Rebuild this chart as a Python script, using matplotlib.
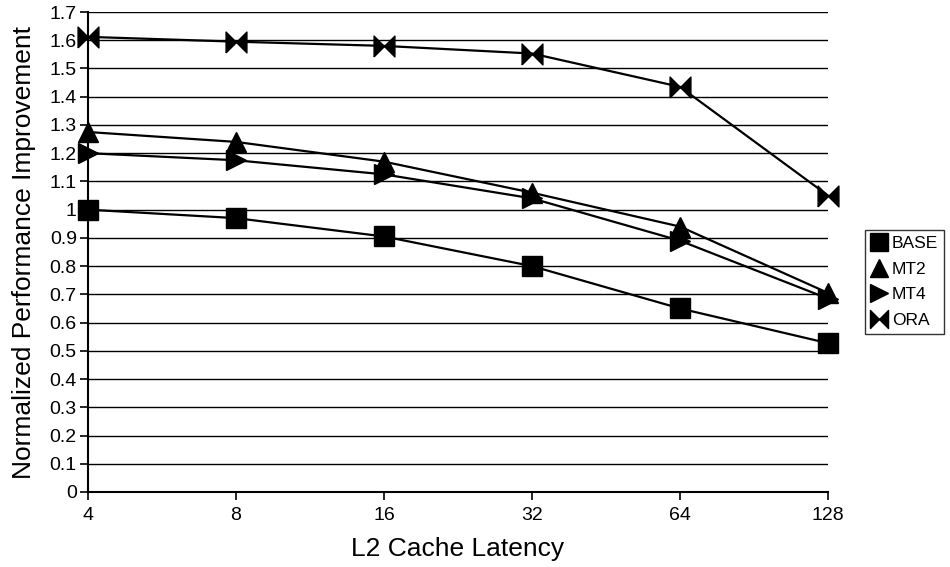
import matplotlib
matplotlib.use('Agg')
from matplotlib import pyplot as plt
from matplotlib.lines import Line2D
from matplotlib.path import Path

latency = ['4', '8', '16', '32', '64', '128']
base = [1.0, 0.97, 0.905, 0.80, 0.65, 0.527]
mt2 = [1.275, 1.24, 1.17, 1.06, 0.94, 0.705]
mt4 = [1.20, 1.175, 1.125, 1.04, 0.89, 0.685]
ora = [1.612, 1.595, 1.58, 1.553, 1.435, 1.05]

plt.rcParams['font.family'] = ['Liberation Sans', 'DejaVu Sans']

# bow-tie marker: two triangles meeting at the centre
bowtie = Path([(-1, -1), (-1, 1), (0, 0), (1, 1), (1, -1), (0, 0), (-1, -1)])

fig = plt.figure(figsize=(9.5, 5.67), dpi=100)
ax = fig.add_axes([0.0926, 0.1323, 0.779, 0.8465])

x = list(range(len(latency)))
series = [(base, 's', 15), (mt2, '^', 15), (mt4, '>', 15), (ora, bowtie, 15)]
for vals, m, ms in series:
    ax.plot(x, vals, color='black', lw=1.6, marker=m, markersize=ms,
            markerfacecolor='black', markeredgecolor='black', clip_on=False, zorder=3)

ax.set_xlim(0, len(latency) - 1)
ax.set_ylim(0, 1.7)
ax.set_xticks(x)
ax.set_xticklabels(latency)
yt = [i / 10 for i in range(18)]
ax.set_yticks(yt)
ax.set_yticklabels(['0', '0.1', '0.2', '0.3', '0.4', '0.5', '0.6', '0.7', '0.8', '0.9', '1',
                    '1.1', '1.2', '1.3', '1.4', '1.5', '1.6', '1.7'])
ax.yaxis.grid(True, color='black', lw=1.0)
ax.set_axisbelow(True)
for s in ['top', 'right']:
    ax.spines[s].set_visible(False)
ax.spines['left'].set_linewidth(1.5)
ax.spines['bottom'].set_linewidth(1.5)
ax.tick_params(axis='both', labelsize=14, length=6, width=1.2, direction='out', pad=2)
ax.tick_params(axis='x', pad=5)

ax.set_xlabel('L2 Cache Latency', fontsize=19, labelpad=9)
ax.set_ylabel('Normalized Performance Improvement', fontsize=19, labelpad=10)

handles = [Line2D([], [], ls='none', marker=m, color='black', markersize=13)
           for _, m, _ in series]
leg = fig.legend(handles, ['BASE', 'MT2', 'MT4', 'ORA'], loc='upper left',
                 bbox_to_anchor=(865 / 950, 1 - 230 / 567), borderaxespad=0,
                 frameon=True, fancybox=False, fontsize=12.5, handlelength=0.9,
                 handletextpad=0.3, labelspacing=0.6, borderpad=0.35)
leg.get_frame().set_edgecolor('black')
leg.get_frame().set_linewidth(1.0)

plt.savefig('out.png', dpi=100)
